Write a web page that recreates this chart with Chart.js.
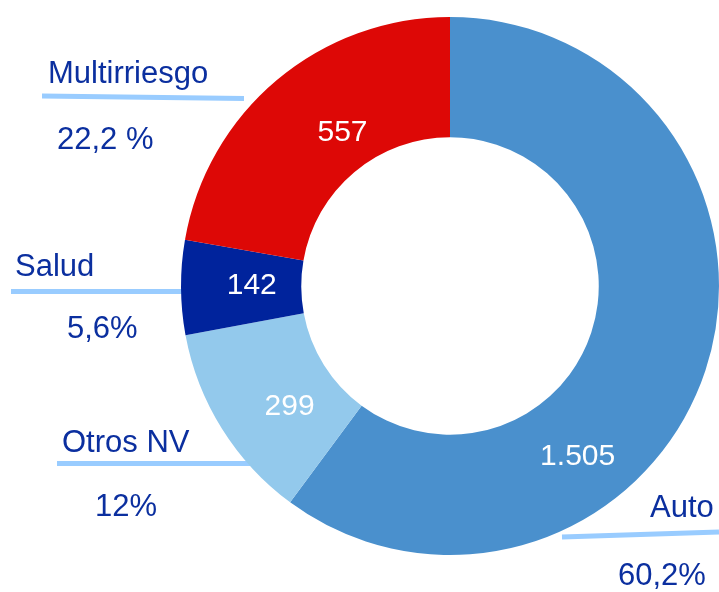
<!DOCTYPE html>
<html>
<head>
<meta charset="utf-8">
<script src="https://cdn.jsdelivr.net/npm/chart.js@4.4.1/dist/chart.umd.min.js"></script>
<style>
html,body{margin:0;padding:0;background:#fff;}
#wrap{position:relative;width:719px;height:592px;}
</style>
</head>
<body>
<div id="wrap"><canvas id="c" width="719" height="592"></canvas></div>
<script>
// ---- data ----
const categories = ['Auto', 'Otros NV', 'Salud', 'Multirriesgo'];
const values = [1505, 299, 142, 557];
const valueLabels = ['1.505', '299', '142', '557'];
const percentLabels = ['60,2%', '12%', '5,6%', '22,2 %'];

// ---- styles / placement (not data) ----
const sliceColors = ['#4a90cd', '#93c9ec', '#00239c', '#dd0806'];
const textColor = '#0b2f9f';
const leaderColor = '#99ccff';
const FONT = '"Liberation Sans", Arial, sans-serif';
// inner value label: fraction along slice angle, radius as fraction of outer radius
const innerSpots = [
  {frac: 0.661, r: 0.79},
  {frac: 0.388, r: 0.745},
  {frac: 0.53, r: 0.737},
  {frac: 0.564, r: 0.698}
];
// outer callouts: name position, leader line, percent position
const callouts = [
  {name: [650, 517], line: [562, 537, 719, 532], pct: [618, 585]},
  {name: [62, 452], line: [57, 463.5, 250, 463.5], pct: [95, 516]},
  {name: [15, 276], line: [11, 291.5, 182, 291.5], pct: [67, 338]},
  {name: [48, 83], line: [42, 96, 244, 98.5], pct: [57, 149]}
];

const calloutPlugin = {
  id: 'callouts',
  beforeDatasetsDraw(chart) {
    const ctx = chart.ctx;
    ctx.save();
    ctx.strokeStyle = leaderColor;
    ctx.lineWidth = 5;
    ctx.lineCap = 'butt';
    callouts.forEach(c => {
      ctx.beginPath();
      ctx.moveTo(c.line[0], c.line[1]);
      ctx.lineTo(c.line[2], c.line[3]);
      ctx.stroke();
    });
    ctx.restore();
  },
  afterDatasetsDraw(chart) {
    const ctx = chart.ctx;
    ctx.save();
    ctx.font = '31px ' + FONT;
    ctx.textBaseline = 'alphabetic';
    ctx.textAlign = 'left';
    ctx.fillStyle = textColor;
    callouts.forEach((c, i) => {
      ctx.fillText(categories[i], c.name[0], c.name[1]);
      ctx.fillText(percentLabels[i], c.pct[0], c.pct[1]);
    });
    // inner value labels
    const meta = chart.getDatasetMeta(0);
    ctx.fillStyle = '#ffffff';
    ctx.font = '30px ' + FONT;
    ctx.textAlign = 'center';
    ctx.textBaseline = 'middle';
    meta.data.forEach((arc, i) => {
      const p = arc.getProps(['x', 'y', 'startAngle', 'endAngle', 'outerRadius'], true);
      const s = innerSpots[i];
      const a = p.startAngle + (p.endAngle - p.startAngle) * s.frac;
      const r = p.outerRadius * s.r;
      ctx.fillText(valueLabels[i], p.x + Math.cos(a) * r, p.y + Math.sin(a) * r + 1);
    });
    ctx.restore();
  }
};

new Chart(document.getElementById('c'), {
  type: 'doughnut',
  data: {
    labels: categories,
    datasets: [{
      data: values,
      backgroundColor: sliceColors,
      borderWidth: 0,
      hoverOffset: 0
    }]
  },
  options: {
    responsive: false,
    animation: false,
    events: [],
    cutout: '55.3%',
    rotation: 0,
    layout: {padding: {left: 181, right: -4, top: 15, bottom: 35}},
    plugins: {
      legend: {display: false},
      tooltip: {enabled: false}
    }
  },
  plugins: [calloutPlugin]
});
</script>
</body>
</html>
